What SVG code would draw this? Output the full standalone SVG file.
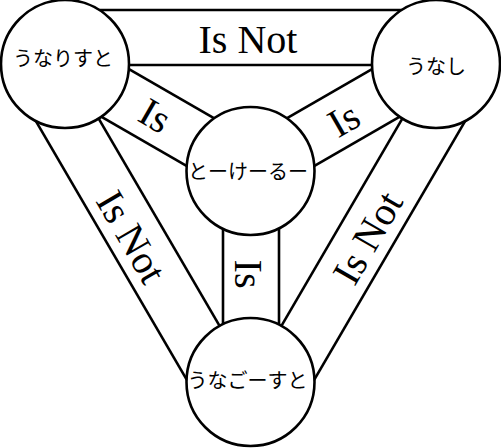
<svg xmlns="http://www.w3.org/2000/svg" width="501" height="448" viewBox="0 0 501 448">
<style>
  .band { stroke: #000; stroke-width: 2.6; fill: none; }
  .node circle { fill: #fff; stroke: #000; stroke-width: 2.6; }
  .node text { font-family: "Noto Sans CJK JP", "DejaVu Sans", sans-serif; font-size: 20px; text-anchor: middle; fill: #000; }
  .lbl { font-family: "Liberation Serif", "Times New Roman", serif; font-size: 40px; text-anchor: middle; fill: #000; }
</style>
<rect width="501" height="448" fill="#fff"/>
<g id="connectors">
  <!-- top Is Not -->
  <line class="band" x1="65" y1="10" x2="436" y2="10"/>
  <line class="band" x1="65" y1="65" x2="436" y2="65"/>
  <text class="lbl" x="248" y="53">Is Not</text>
  <!-- left Is -->
  <line class="band" x1="78.7" y1="40.2" x2="264.2" y2="147.2"/>
  <line class="band" x1="51.3" y1="87.8" x2="236.8" y2="194.8"/>
  <text class="lbl" transform="translate(155,116) rotate(30)" x="0" y="13">Is</text>
  <!-- right Is -->
  <line class="band" x1="422.3" y1="40.2" x2="236.8" y2="147.2"/>
  <line class="band" x1="449.7" y1="87.8" x2="264.2" y2="194.8"/>
  <text class="lbl" transform="translate(344,120) rotate(-30)" x="0" y="13">Is</text>
  <!-- vertical Is -->
  <line class="band" x1="223" y1="171" x2="223" y2="382"/>
  <line class="band" x1="279" y1="171" x2="279" y2="382"/>
  <text class="lbl" transform="translate(248,274) rotate(90)" x="0" y="13">Is</text>
  <!-- left Is Not -->
  <line class="band" x1="18.4" y1="91.2" x2="203.9" y2="409.2"/>
  <line class="band" x1="66.3" y1="63.2" x2="251.8" y2="381.2"/>
  <text class="lbl" transform="translate(131,237) rotate(60)" x="0" y="13">Is Not</text>
  <!-- right Is Not -->
  <line class="band" x1="482.6" y1="91.2" x2="297.1" y2="409.2"/>
  <line class="band" x1="434.7" y1="63.2" x2="249.2" y2="381.2"/>
  <text class="lbl" transform="translate(368,238) rotate(-60)" x="0" y="13">Is Not</text>
</g>
<g id="node-unaristo" class="node">
  <circle cx="65" cy="64" r="64"/>
  <text x="63" y="65.5">うなりすと</text>
</g>
<g id="node-unashi" class="node">
  <circle cx="436" cy="64" r="64"/>
  <text x="436" y="74">うなし</text>
</g>
<g id="node-center" class="node">
  <circle cx="250.5" cy="171" r="64"/>
  <text x="248" y="179">とーけーるー</text>
</g>
<g id="node-bottom" class="node">
  <circle cx="250.5" cy="382" r="64"/>
  <text x="247.5" y="388">うなごーすと</text>
</g>
</svg>
